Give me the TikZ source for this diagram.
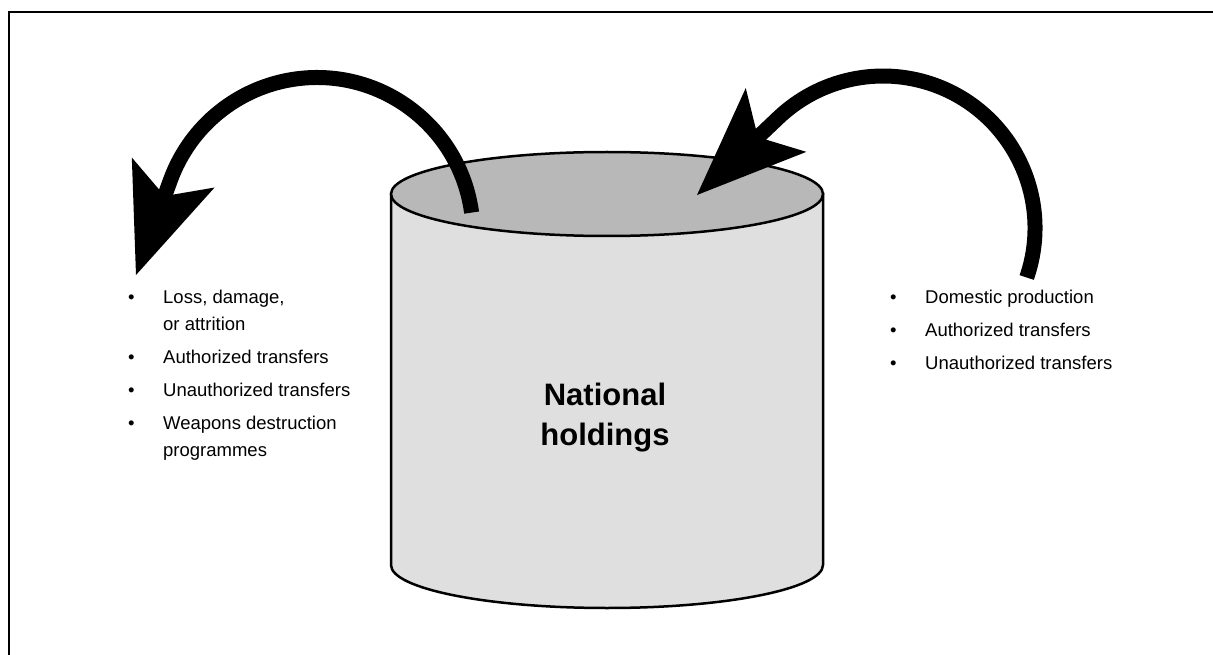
\documentclass[tikz,border=0pt]{standalone}
\usepackage{fontspec}
\setmainfont{Liberation Sans}
\usetikzlibrary{arrows.meta}
\definecolor{bodygray}{HTML}{DFDFDF}
\definecolor{topgray}{HTML}{B8B8B8}
\begin{document}
\begin{tikzpicture}[x=1pt,y=-1pt,
  bigarrow/.style={line width=15pt,
    -{Stealth[length=109pt,width=88pt,inset=25pt,line width=0pt]}},
  itemtext/.style={anchor=base west, align=left, inner sep=0pt,
    font=\fontsize{18.5}{27}\selectfont},
  cyl/.style={draw, line width=2.5pt},
  ]
\useasboundingbox (0,0) rectangle (1213,655);
% frame (only top and left edges visible)
\draw[line width=1.8pt] (9,655) -- (9,12) -- (1213,12);
% cylinder body
\path[cyl, fill=bodygray] (391,194) -- (391,565)
  arc[start angle=180, end angle=0, x radius=216, y radius=43]
  -- (823,194) -- cycle;
% cylinder top
\path[cyl, fill=topgray] (607,194) ellipse[x radius=216, y radius=42];
\node[font=\bfseries\fontsize{31}{40}\selectfont, align=center, inner sep=0pt]
  (hold) at (605,418) {National\\holdings};
% arrows
\coordinate (lstart) at (471.6,212.6);
\coordinate (ltip) at (136,275);
\draw[bigarrow] (lstart) arc[start angle=-7.7, end angle=-160, radius=156] -- (ltip);
\coordinate (rstart) at (1026.7,277.5);
\coordinate (rtip) at (697,195);
\draw[bigarrow] (rstart) arc[start angle=19, end angle=-133.5, radius=152] -- (rtip);
% left list
\node[itemtext] (l1) at (128,330) {\makebox[35pt][l]{•}Loss, damage,\\\hspace*{35pt}or attrition};
\node[itemtext] (l2) at (128,363) {\makebox[35pt][l]{•}Authorized transfers};
\node[itemtext] (l3) at (128,396) {\makebox[35pt][l]{•}Unauthorized transfers};
\node[itemtext] (l4) at (128,456) {\makebox[35pt][l]{•}Weapons destruction\\\hspace*{35pt}programmes};
% right list
\node[itemtext] (r1) at (890,303) {\makebox[35pt][l]{•}Domestic production};
\node[itemtext] (r2) at (890,336) {\makebox[35pt][l]{•}Authorized transfers};
\node[itemtext] (r3) at (890,369) {\makebox[35pt][l]{•}Unauthorized transfers};
\end{tikzpicture}
\end{document}
